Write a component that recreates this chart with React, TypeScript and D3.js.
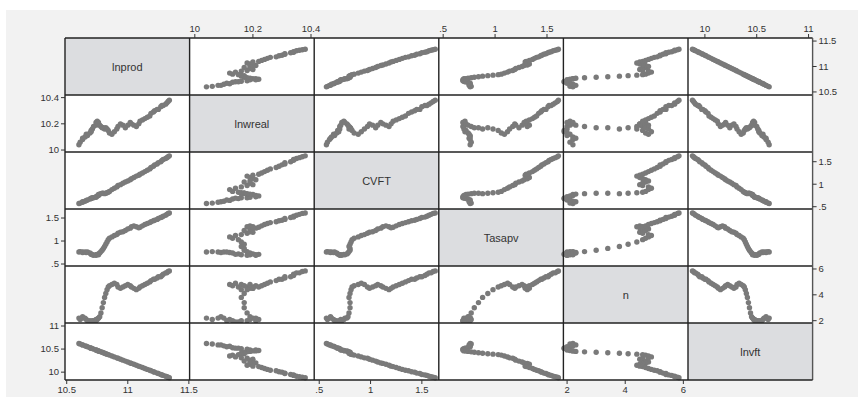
import React from "react";
import * as d3 from "d3";

// observations in time order
const lnprod = [
  10.60, 10.61, 10.63, 10.63, 10.65, 10.66, 10.67, 10.69, 10.70, 10.70, 10.71, 10.72, 10.74, 10.74, 10.75, 10.76, 10.76, 10.77,
  10.78, 10.79, 10.80, 10.81, 10.82, 10.83, 10.84,
  10.85, 10.87, 10.89, 10.91, 10.92, 10.94, 10.96, 10.98, 11.00, 11.02, 11.03, 11.05, 11.07, 11.09, 11.10, 11.12, 11.14,
  11.16, 11.18, 11.19, 11.21, 11.22, 11.24, 11.25, 11.27, 11.28, 11.29, 11.31, 11.32, 11.33, 11.34,
];
const lnwreal = [
  10.04, 10.06, 10.08, 10.09, 10.10, 10.12, 10.11, 10.13, 10.15, 10.14, 10.16, 10.18, 10.19, 10.21, 10.22, 10.21, 10.20, 10.19,
  10.18, 10.17, 10.17, 10.16, 10.17, 10.16, 10.15,
  10.13, 10.12, 10.14, 10.16, 10.18, 10.20, 10.19, 10.17, 10.19, 10.21, 10.20, 10.19, 10.18, 10.20, 10.22, 10.23, 10.24,
  10.25, 10.26, 10.28, 10.29, 10.30, 10.31, 10.31, 10.33, 10.34, 10.34, 10.35, 10.36, 10.37, 10.38,
];
const cvft = [
  0.57, 0.58, 0.60, 0.61, 0.62, 0.64, 0.65, 0.67, 0.68, 0.69, 0.70, 0.70, 0.71, 0.72, 0.74, 0.75, 0.77, 0.78,
  0.79, 0.80, 0.80, 0.79, 0.80, 0.81, 0.82,
  0.84, 0.88, 0.91, 0.94, 0.97, 0.99, 1.02, 1.05, 1.07, 1.10, 1.12, 1.15, 1.18, 1.20, 1.22, 1.25, 1.28,
  1.31, 1.34, 1.37, 1.40, 1.43, 1.45, 1.48, 1.50, 1.53, 1.55, 1.57, 1.59, 1.61, 1.63,
];
const tasapv = [
  0.76, 0.77, 0.76, 0.75, 0.76, 0.75, 0.76, 0.74, 0.72, 0.71, 0.70, 0.69, 0.70, 0.69, 0.71, 0.70, 0.72, 0.74,
  0.77, 0.80, 0.84, 0.88, 0.93, 0.98, 1.03,
  1.06, 1.09, 1.12, 1.14, 1.17, 1.19, 1.20, 1.23, 1.26, 1.28, 1.31, 1.33, 1.31, 1.29, 1.30, 1.33, 1.36,
  1.38, 1.40, 1.42, 1.44, 1.45, 1.47, 1.49, 1.51, 1.52, 1.54, 1.56, 1.58, 1.60, 1.61,
];
const nVals = [
  2.2, 2.1, 2.2, 2.3, 2.2, 2.1, 2.0, 2.0, 1.9, 1.9, 2.0, 2.0, 2.1, 2.0, 2.1, 2.2, 2.2, 2.3,
  2.6, 3.0, 3.4, 3.8, 4.1, 4.4, 4.6,
  4.7, 4.8, 4.9, 4.8, 4.6, 4.5, 4.6, 4.7, 4.8, 4.7, 4.6, 4.5, 4.4, 4.5, 4.6, 4.7, 4.8,
  4.9, 5.0, 5.1, 5.2, 5.2, 5.3, 5.4, 5.4, 5.5, 5.6, 5.7, 5.7, 5.8, 5.85,
];
const lnvft = [
  10.62, 10.61, 10.59, 10.59, 10.57, 10.56, 10.55, 10.53, 10.52, 10.52, 10.51, 10.50, 10.48, 10.48, 10.47, 10.46, 10.46, 10.45,
  10.44, 10.43, 10.42, 10.41, 10.40, 10.39, 10.38,
  10.37, 10.35, 10.33, 10.31, 10.30, 10.28, 10.26, 10.24, 10.22, 10.20, 10.19, 10.17, 10.15, 10.13, 10.12, 10.10, 10.08,
  10.06, 10.04, 10.03, 10.01, 10.00, 9.98, 9.97, 9.95, 9.94, 9.93, 9.91, 9.90, 9.89, 9.88,
];

const names = ["lnprod", "lnwreal", "CVFT", "Tasapv", "n", "lnvft"];
const series = [lnprod, lnwreal, cvft, tasapv, nVals, lnvft];
const ticks = [
  [10.5, 11, 11.5],
  [10, 10.2, 10.4],
  [0.5, 1, 1.5],
  [0.5, 1, 1.5],
  [2, 4, 6],
  [10, 10.5, 11],
];
// axis ranges, horizontal and vertical
const hDomains = [[10.486, 11.506], [9.982, 10.411], [0.451, 1.665], [0.458, 1.658], [1.873, 6.16], [9.837, 11.039]];
const vDomains = [[10.44, 11.56], [9.985, 10.42], [0.449, 1.716], [0.457, 1.696], [1.82, 6.23], [9.83, 11.065]];

const W = 863, H = 402;
const left = 65, top = 38, cw = 124.6, ch = 57;
const fmt = (v: number) => (v < 1 ? String(v).replace(/^0/, "") : String(v));
const font = "Liberation Sans, Arial, sans-serif";

export default function App() {
  const k = names.length;
  const xs = names.map((_, j) => d3.scaleLinear().domain(hDomains[j]).range([left + j * cw, left + (j + 1) * cw]));
  const ys = names.map((_, i) => d3.scaleLinear().domain(vDomains[i]).range([top + (i + 1) * ch, top + i * ch]));
  const cells = [];
  for (let i = 0; i < k; i++) {
    for (let j = 0; j < k; j++) {
      const x0 = left + j * cw, y0 = top + i * ch;
      if (i === j) {
        cells.push(
          <g key={`c${i}${j}`}>
            <rect x={x0} y={y0} width={cw} height={ch} fill="#dcdde0" />
            <text x={x0 + cw / 2} y={y0 + ch / 2 + 4} textAnchor="middle" fontSize={11} fill="#333">{names[i]}</text>
          </g>
        );
      } else {
        cells.push(
          <g key={`c${i}${j}`}>
            <rect x={x0} y={y0} width={cw} height={ch} fill="#fff" />
            {series[j].map((v, t) => (
              <circle key={t} cx={xs[j](v)} cy={ys[i](series[i][t])} r={2.7} fill="#7a7a7a" />
            ))}
          </g>
        );
      }
    }
  }

  const axes = [];
  for (let j = 0; j < k; j++) {
    const topSide = j % 2 === 1;
    const yLine = topSide ? top : top + k * ch;
    axes.push(
      <g key={`h${j}`}>
        {ticks[j].map((t) => {
          const x = xs[j](t);
          return (
            <g key={t}>
              <line x1={x} x2={x} y1={yLine} y2={topSide ? yLine - 4 : yLine + 4} stroke="#333" />
              <text x={x} y={topSide ? yLine - 6 : yLine + 13} textAnchor="middle" fontSize={9.5} fill="#333">{fmt(t)}</text>
            </g>
          );
        })}
      </g>
    );
  }
  for (let i = 0; i < k; i++) {
    const leftSide = i % 2 === 1;
    const xLine = leftSide ? left : left + k * cw;
    axes.push(
      <g key={`v${i}`}>
        {ticks[i].map((t) => {
          const y = ys[i](t);
          return (
            <g key={t}>
              <line x1={xLine} x2={leftSide ? xLine - 4 : xLine + 4} y1={y} y2={y} stroke="#333" />
              <text x={leftSide ? xLine - 6 : xLine + 6} y={y + 3.3} textAnchor={leftSide ? "end" : "start"} fontSize={9.5} fill="#333">{fmt(t)}</text>
            </g>
          );
        })}
      </g>
    );
  }

  const grid = [];
  for (let q = 0; q <= k; q++) {
    grid.push(<line key={`gx${q}`} x1={left + q * cw} x2={left + q * cw} y1={top} y2={top + k * ch} stroke={q === k ? "#555" : "#222"} strokeWidth={1.4} />);
    grid.push(<line key={`gy${q}`} x1={left} x2={left + k * cw} y1={top + q * ch} y2={top + q * ch} stroke="#222" strokeWidth={1.4} />);
  }

  return (
    <svg width={W} height={H} style={{ position: "absolute", left: 0, top: 0, fontFamily: font }}>
      <rect x={0} y={0} width={W} height={H} fill="#fff" />
      <rect x={6} y={10} width={852} height={387} fill="#f2f2f2" />
      {cells}
      {grid}
      {axes}
    </svg>
  );
}
